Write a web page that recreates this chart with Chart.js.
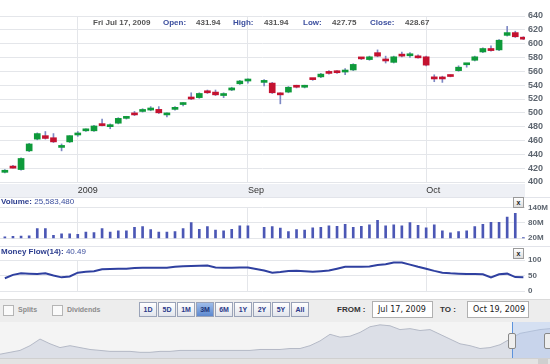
<!DOCTYPE html>
<html>
<head>
<meta charset="utf-8">
<script src="https://cdn.jsdelivr.net/npm/chart.js@4/dist/chart.umd.min.js"></script>
<style>
body { margin: 0; width: 550px; height: 364px; overflow: hidden; background: #fff; position: relative; font-family: "Liberation Sans", Arial, sans-serif; }
.abs { position: absolute; }
canvas { position: absolute; left: 0; }
.hdr { position: absolute; top: 18px; font-size: 8px; font-weight: bold; white-space: nowrap; }
.lbl { color: #3b4e9e; }
.val { color: #555; }
.ptitle { position: absolute; left: 1px; font-size: 8px; white-space: nowrap; color: #3b4e9e; }
.ptitle b { color: #2c3d8f; }
.xbox { position: absolute; left: 513px; width: 9px; height: 9px; border: 1px solid #9a9a9a; background: linear-gradient(#fff, #ddd); font: bold 7px "Liberation Sans"; line-height: 9px; text-align: center; color: #222; }
.btn { position: absolute; top: 302px; width: 18px; height: 15px; border: 1px solid #9aa3b8; box-sizing: border-box; background: linear-gradient(#ffffff, #e2e5ec); font: bold 7px "Liberation Sans"; line-height: 13px; text-align: center; color: #2a3a8a; }
.btn.on { background: linear-gradient(#9fbdea, #5c88cf); color: #1c3578; }
.chk { position: absolute; top: 305px; width: 9px; height: 9px; border: 1px solid #b5b5b5; background: #fafafa; }
.tl { position: absolute; top: 306px; font: bold 7px "Liberation Sans"; color: #8c8c8c; }
.fld { position: absolute; top: 301px; height: 17px; border: 1px solid #b0b0b0; box-sizing: border-box; background: #fff; font: 8px "DejaVu Sans"; line-height: 15px; padding-left: 5px; color: #222; }
</style>
</head>
<body>

<div class="abs" style="left:0;top:184px;width:525px;height:13px;background:#eef0f5;"></div>
<div class="abs" style="left:0;top:197px;width:550px;height:1px;background:#e2e4ea;"></div>
<div class="abs" style="left:0;top:246px;width:550px;height:1px;background:#e2e4ea;"></div>

<canvas id="price" width="550" height="198" style="top:0"></canvas>
<canvas id="vol" width="550" height="48" style="top:198px"></canvas>
<canvas id="mf" width="550" height="53" style="top:247px"></canvas>

<div class="hdr val" style="left:93px;color:#555">Fri Jul 17, 2009</div>
<div class="hdr lbl" style="left:163px">Open:</div>
<div class="hdr val" style="left:196px">431.94</div>
<div class="hdr lbl" style="left:233px">High:</div>
<div class="hdr val" style="left:264px">431.94</div>
<div class="hdr lbl" style="left:303px">Low:</div>
<div class="hdr val" style="left:332px">427.75</div>
<div class="hdr lbl" style="left:370px">Close:</div>
<div class="hdr val" style="left:405px">428.67</div>

<div class="ptitle" style="top:197px"><b>Volume:</b> 25,583,480</div>
<div class="xbox" style="top:197px">x</div>
<div class="ptitle" style="top:247px"><b>Money Flow(14):</b> 40.49</div>
<div class="xbox" style="top:248px">x</div>

<div class="abs" style="left:0;top:299px;width:550px;height:23px;background:#ededed;border-top:1px solid #dadada;box-sizing:border-box;"></div>
<div class="chk" style="left:3px"></div><div class="tl" style="left:18px">Splits</div>
<div class="chk" style="left:52px"></div><div class="tl" style="left:67px">Dividends</div>
<div class="btn" style="left:139px">1D</div>
<div class="btn" style="left:158px">5D</div>
<div class="btn" style="left:177px">1M</div>
<div class="btn on" style="left:196px">3M</div>
<div class="btn" style="left:215px">6M</div>
<div class="btn" style="left:234px">1Y</div>
<div class="btn" style="left:253px">2Y</div>
<div class="btn" style="left:272px">5Y</div>
<div class="btn" style="left:291px">All</div>
<div class="tl" style="left:337px;top:305px;font-size:8px;color:#333">FROM :</div>
<div class="fld" style="left:372px;width:61px">Jul 17, 2009</div>
<div class="tl" style="left:440px;top:305px;font-size:8px;color:#333">TO :</div>
<div class="fld" style="left:467px;width:62px">Oct 19, 2009</div>

<div class="abs" style="left:0;top:322px;width:550px;height:36px;background:#f4f4f4;"></div>
<canvas id="nav" width="550" height="36" style="top:322px"></canvas>
<div class="abs" style="left:512px;top:322px;width:38px;height:36px;background:rgba(175,200,240,0.45);border-left:1px solid #5d93dc;"></div>
<div class="abs" style="left:508px;top:333px;width:6px;height:14px;background:#eee;border:1px solid #888;border-radius:2px;"></div>
<div class="abs" style="left:544px;top:333px;width:6px;height:14px;background:#eee;border:1px solid #888;border-radius:2px;"></div>
<div class="abs" style="left:0;top:358px;width:550px;height:6px;background:#e3e3e3;border-top:1px solid #d0d0d0;box-sizing:border-box;"></div>
<div class="abs" style="left:538px;top:359px;width:10px;height:5px;background:#cfcfcf;"></div>

<script>
// --- datos: velas diarias (índice de sesión 0..64, la 31 sin dato) ---
const openP  = [414,423,418,445,462,467,464,450,458,468, 474,474,482,480,485,492,499,502,504,505,
                497,505,512,522,522,531,530,525,533,542, 546,null,544,543,528,530,539,537,548.5,552,
                559,560,559,562,579,577,587,577,573,584, 582.5,582,581,552,551,554,561,569.5,576,588,
                593,591,612,616,609];
const highP  = [418,424,435,456,471,473,470,455,467,473, 477,482,491,484,493,495,502,506,509,509,
                500,509,515,529,529,533,533,529,537,547, 549,null,548,544,529,538,540,540,549,557,
                561,561,564,571,580,582,591,582,582,588, 587,584,582,555,553,555,568,571,582,594,
                597,606,625,618,610];
const lowP   = [413,420,417,444,461,462,457,445,457,466, 473,473,481,477,484,491,496,501,503,499,
                494,504,510,519,521,528,525,522,532,541, 543,null,539,528,513,529,536,536,547,551,
                556,557,555,561,577,576,581,572,572,581, 580,579,568,545,544,552,560,566,575,587,
                589,590,611,609,606];
const closeP = [417,420,434,455,470,463,458,451,467,470, 476,481,481.5,480.5,492,494,497,504,507,500,
                499,508,512.5,520,528,529,526,525.5,536,546, 548,null,544.5,529,526,537,537,539,548,556,
                557,558,560,570,578,581,582,575,581,582, 583,579.5,569,549,549,552.5,566,570,581,593,
                590,605,616,610,606.5];
const volumeM = [25.6,27,28,29,58,58,31,37,37,35, 44,42,58,44,49,49,63,66,54,44,
                 44,46,58,81,55,66,52,49,55,69, 69,null,63,66,60,46,54,52,61,63,
                 69,67,75,63,67,73,90,69,73,69, 81,71,61,73,49,41,46,49,66,75,
                 82,82,103,118,22];
const moneyFlow = [41,52,57,56,55,57,50,44,47,59, 62,64,70,71,71.5,72,74,75,75,75,
                   75,78,80,81,81.5,82,76,75,75,75.5, 76,null,66,59,61,64.5,65.5,64,62,64,
                   66,72,78,78,78,79,84,86,92,92, 85,78,72,65,59,57,56,55,55,54,
                   44,54,56,45,44];

// marcas del eje x
const monthIdx = [9, 30, 52];
const monthLabels = ["2009", "Sep", "Oct"];

// navegador (histórico largo)
const navTrend = [4,6,8,13,20,15,11,13,11,9, 8,7,7,7,6,6,7,7,8,8,
                  8,8,8,8,8,8,9,9,9,10, 10,13,18,25,22,23,27,33,35,34,
                  30,31,29,30,25,20,15,13,10,11, 14,20,26,28,30,31];
const navYearPos = [2.2, 8.5, 15, 21.1, 27.3, 33.3, 39.2, 45.3, 51.6];
const navYears = ["2000","2002","2003","2004","2005","2006","2007","2008","2009"];

const GREEN = "#0e9a3a", RED = "#c41230", WICK = "#7d88c4", GRID = "#e4e6ea";

function xScale(showLabels) {
    return {
        type: "linear", min: -0.6, max: 64.2, offset: false,
        afterBuildTicks: s => { s.ticks = monthIdx.map(v => ({ value: v })); },
        afterFit: s => { s.height = showLabels ? 16 : 0; },
        grid: { color: GRID, drawTicks: false, offset: false },
        border: { display: false },
        ticks: {
            display: showLabels, align: "start", padding: 3, color: "#333",
            maxRotation: 0, autoSkip: false,
            font: { family: "Liberation Sans", size: 9 },
            callback: v => monthLabels[monthIdx.indexOf(v)]
        }
    };
}

function yScale(min, max, step, size, fmt) {
    return {
        position: "right", min: min, max: max,
        afterFit: s => { s.width = 25; },
        grid: { color: GRID, drawTicks: false },
        border: { display: false },
        ticks: {
            stepSize: step, padding: 3, color: "#5e6670",
            font: { family: "Liberation Sans", size: size, weight: "bold" },
            callback: fmt || (v => v)
        }
    };
}

const baseOpts = {
    responsive: false, animation: false, events: [],
    plugins: { legend: { display: false }, tooltip: { enabled: false } }
};

// --- velas ---
const bodies = [], bodyColors = [], wicks = [];
openP.forEach((o, i) => {
    if (o == null) return;
    bodies.push({ x: i, y: [o, closeP[i]] });
    bodyColors.push(closeP[i] >= o ? GREEN : RED);
    wicks.push({ x: i, y: [lowP[i], highP[i]] });
});

new Chart(document.getElementById("price"), {
    type: "bar",
    data: {
        datasets: [
            { data: bodies, backgroundColor: bodyColors, barThickness: 6, minBarLength: 2, grouped: false },
            { data: wicks, backgroundColor: WICK, barThickness: 1, grouped: false }
        ]
    },
    options: {
        ...baseOpts,
        layout: { padding: { top: 16, bottom: 0, left: 0, right: 0 } },
        scales: { x: xScale(true), y: yScale(400, 640, 20, 9) }
    }
});

// --- volumen ---
new Chart(document.getElementById("vol"), {
    type: "bar",
    data: {
        datasets: [{
            data: volumeM.map((v, i) => v == null ? null : { x: i, y: v }).filter(Boolean),
            backgroundColor: "#4b57b5", barThickness: 2
        }]
    },
    options: {
        ...baseOpts,
        layout: { padding: { top: 9.7, bottom: 3.3, left: 0, right: 0 } },
        scales: { x: xScale(false), y: yScale(20, 140, 60, 8, v => v + "M") }
    }
});

// --- money flow ---
new Chart(document.getElementById("mf"), {
    type: "line",
    data: {
        datasets: [{
            data: moneyFlow.map((v, i) => ({ x: i, y: v })),
            borderColor: "#2f40a0", borderWidth: 2, pointRadius: 0, tension: 0, spanGaps: true
        }]
    },
    options: {
        ...baseOpts,
        layout: { padding: { top: 13, bottom: 9, left: 0, right: 0 } },
        scales: { x: xScale(false), y: yScale(0, 100, 50, 8) }
    }
});

// --- navegador ---
new Chart(document.getElementById("nav"), {
    type: "line",
    data: {
        datasets: [{
            data: navTrend.map((v, i) => ({ x: i, y: v })),
            fill: "origin", backgroundColor: "#dcdfe7", borderColor: "#b4b9c6",
            borderWidth: 1, pointRadius: 0, tension: 0
        }]
    },
    options: {
        ...baseOpts,
        layout: { padding: 0 },
        scales: {
            x: {
                type: "linear", min: 0, max: 55,
                afterBuildTicks: s => { s.ticks = navYearPos.map(v => ({ value: v })); },
                afterFit: s => { s.height = 0; },
                grid: { display: false }, border: { display: false },
                ticks: {
                    padding: -11, color: "#c2c2c2", maxRotation: 0, autoSkip: false,
                    font: { family: "Liberation Sans", size: 8 },
                    callback: v => navYears[navYearPos.indexOf(v)]
                }
            },
            y: { display: false, min: 0, max: 38 }
        }
    }
});
</script>
</body>
</html>
